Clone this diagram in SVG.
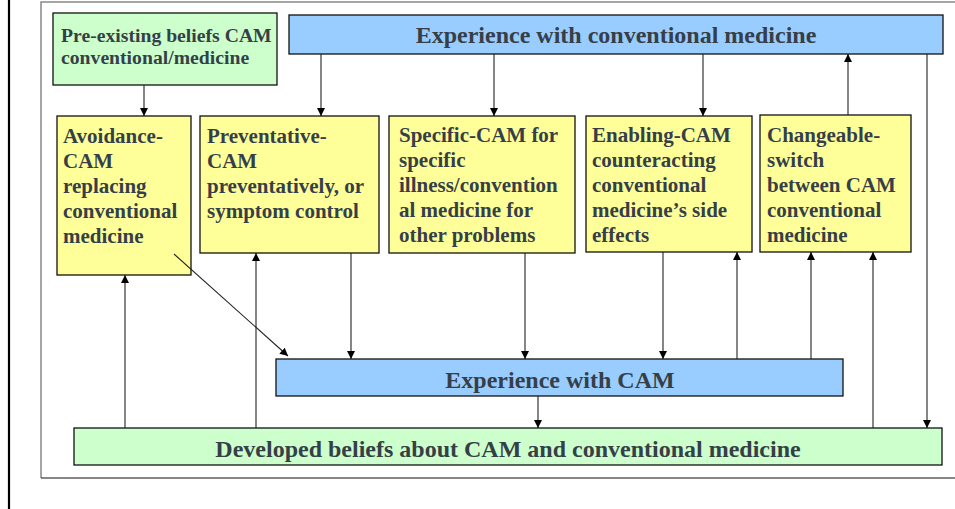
<svg xmlns="http://www.w3.org/2000/svg" width="955" height="509" viewBox="0 0 955 509">
<style>
.box{stroke:#111;stroke-width:1.3}
.blue{fill:#99CCFF}
.yel{fill:#FFFF99}
.grn{fill:#CCFFCC}
.t{font-family:"Liberation Serif","Times New Roman",serif;font-weight:bold;fill:#363f48}
.big{font-size:24px}
.mid{font-size:21px}
.sm{font-size:19.7px}
.c{stroke:#222;stroke-width:1.1;fill:none}
</style>
<defs>
<marker id="ah" markerUnits="userSpaceOnUse" markerWidth="10" markerHeight="10" refX="8" refY="4" orient="auto">
<path d="M0,0 L8,4 L0,8 Z" fill="#000"/>
</marker>
</defs>
<rect x="0" y="0" width="955" height="509" fill="#fff"/>
<line x1="9" y1="0" x2="9" y2="509" stroke="#000" stroke-width="2.2"/>
<path d="M41,478 L41,2 L960,2" fill="none" stroke="#888" stroke-width="1.5"/>
<line x1="41" y1="478" x2="955" y2="478" stroke="#111" stroke-width="1.2"/>

<g id="preexisting">
<rect class="box grn" x="53" y="13" width="224" height="72"/>
<text class="t sm" x="61" y="42">Pre-existing beliefs CAM</text>
<text class="t sm" x="61" y="64">conventional/medicine</text>
</g>
<g id="exp-conventional">
<rect class="box blue" x="289" y="15" width="654" height="39"/>
<text class="t big" x="616" y="43" text-anchor="middle">Experience with conventional medicine</text>
</g>
<g id="avoidance">
<rect class="box yel" x="57" y="116" width="134" height="159"/>
<text class="t mid" x="63" y="143">Avoidance-</text>
<text class="t mid" x="63" y="168">CAM</text>
<text class="t mid" x="63" y="193">replacing</text>
<text class="t mid" x="63" y="218">conventional</text>
<text class="t mid" x="63" y="243">medicine</text>
</g>
<g id="preventative">
<rect class="box yel" x="200" y="116" width="179" height="137"/>
<text class="t mid" x="207" y="143">Preventative-</text>
<text class="t mid" x="207" y="168">CAM</text>
<text class="t mid" x="207" y="193">preventatively, or</text>
<text class="t mid" x="207" y="218">symptom control</text>
</g>
<g id="specific">
<rect class="box yel" x="389" y="116" width="186" height="137"/>
<text class="t mid" x="399" y="142">Specific-CAM for</text>
<text class="t mid" x="399" y="167">specific</text>
<text class="t mid" x="399" y="192">illness/convention</text>
<text class="t mid" x="399" y="217">al medicine for</text>
<text class="t mid" x="399" y="242">other problems</text>
</g>
<g id="enabling">
<rect class="box yel" x="586" y="116" width="166" height="136"/>
<text class="t mid" x="592" y="142">Enabling-CAM</text>
<text class="t mid" x="592" y="167">counteracting</text>
<text class="t mid" x="592" y="192">conventional</text>
<text class="t mid" x="592" y="217">medicine’s side</text>
<text class="t mid" x="592" y="242">effects</text>
</g>
<g id="changeable">
<rect class="box yel" x="760" y="115" width="151" height="137"/>
<text class="t mid" x="767" y="142">Changeable-</text>
<text class="t mid" x="767" y="167">switch</text>
<text class="t mid" x="767" y="192">between CAM</text>
<text class="t mid" x="767" y="217">conventional</text>
<text class="t mid" x="767" y="242">medicine</text>
</g>
<g id="exp-cam">
<rect class="box blue" x="276" y="359" width="567" height="37"/>
<text class="t big" x="560" y="388" text-anchor="middle">Experience with CAM</text>
</g>
<g id="developed">
<rect class="box grn" x="74" y="428" width="868" height="37"/>
<text class="t big" x="508" y="457" text-anchor="middle">Developed beliefs about CAM and conventional medicine</text>
</g>

<g id="connectors">
<line class="c" x1="144" y1="85" x2="144" y2="116" marker-end="url(#ah)"/>
<line class="c" x1="321" y1="54" x2="321" y2="116" marker-end="url(#ah)"/>
<line class="c" x1="494" y1="54" x2="494" y2="116" marker-end="url(#ah)"/>
<line class="c" x1="703" y1="54" x2="703" y2="116" marker-end="url(#ah)"/>
<line class="c" x1="848" y1="115" x2="848" y2="54" marker-end="url(#ah)"/>
<line class="c" x1="927" y1="54" x2="927" y2="428" marker-end="url(#ah)"/>
<line class="c" x1="174" y1="254" x2="288" y2="356" marker-end="url(#ah)"/>
<line class="c" x1="351" y1="253" x2="351" y2="359" marker-end="url(#ah)"/>
<line class="c" x1="525" y1="253" x2="525" y2="359" marker-end="url(#ah)"/>
<line class="c" x1="663" y1="252" x2="663" y2="359" marker-end="url(#ah)"/>
<line class="c" x1="737" y1="359" x2="737" y2="252" marker-end="url(#ah)"/>
<line class="c" x1="811" y1="359" x2="811" y2="252" marker-end="url(#ah)"/>
<line class="c" x1="538" y1="396" x2="538" y2="428" marker-end="url(#ah)"/>
<line class="c" x1="125" y1="428" x2="125" y2="275" marker-end="url(#ah)"/>
<line class="c" x1="256" y1="428" x2="256" y2="253" marker-end="url(#ah)"/>
<line class="c" x1="873" y1="428" x2="873" y2="252" marker-end="url(#ah)"/>
</g>
</svg>
